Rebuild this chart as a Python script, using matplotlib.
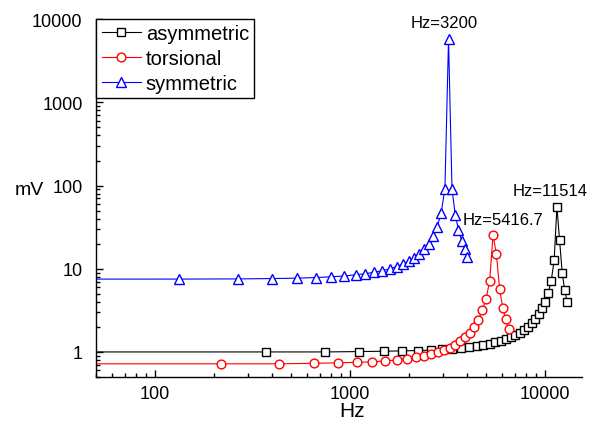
import matplotlib
matplotlib.use('Agg')
import matplotlib.pyplot as plt
from matplotlib.ticker import FixedLocator, LogLocator, NullFormatter, FuncFormatter

plt.rcParams['font.family'] = ['Liberation Sans', 'DejaVu Sans']

# asymmetric mode (first point sits left of the axis so the line starts at the spine)
asym_hz = [1, 371.4, 742.8, 1114.3, 1485.7, 1857.1, 2228.5, 2599.9, 2971.4, 3342.8,
           3714.2, 4085.6, 4457.0, 4828.4, 5199.9, 5571.3, 5942.7, 6314.1, 6685.5,
           7057.0, 7428.4, 7799.8, 8171.2, 8542.6, 8914.1, 9285.5, 9656.9, 10028.3,
           10399.7, 10771.2, 11142.6, 11514.0, 11885.4, 12256.8, 12628.2, 12999.7]
asym_mv = [1.0, 1.0, 1.0, 1.01, 1.02, 1.03, 1.04, 1.05, 1.07, 1.09,
           1.12, 1.14, 1.18, 1.21, 1.26, 1.31, 1.36, 1.43, 1.51,
           1.60, 1.71, 1.85, 2.01, 2.22, 2.50, 2.86, 3.35, 3.95,
           5.15, 7.2, 12.6, 55.0, 21.9, 8.9, 5.5, 4.0]

# torsional mode
tors_hz = [1, 216.7, 433.3, 650.0, 866.7, 1083.3, 1300.0, 1516.7, 1733.3, 1950.0,
           2166.7, 2383.3, 2600.0, 2816.7, 3033.3, 3250.0, 3466.7, 3683.3, 3900.0,
           4116.7, 4333.3, 4550.0, 4766.7, 4983.3, 5200.0, 5416.7, 5633.3, 5850.0,
           6066.7, 6283.3, 6500.0]
tors_mv = [0.72, 0.72, 0.72, 0.73, 0.74, 0.75, 0.76, 0.78, 0.80, 0.83,
           0.86, 0.89, 0.94, 0.99, 1.05, 1.13, 1.22, 1.34, 1.50,
           1.70, 2.0, 2.45, 3.15, 4.3, 7.1, 25.6, 14.9, 5.75,
           3.4, 2.46, 1.9]

# symmetric mode
sym_hz = [1, 133.3, 266.7, 400.0, 533.3, 666.7, 800.0, 933.3, 1066.7, 1200.0,
          1333.3, 1466.7, 1600.0, 1733.3, 1866.7, 2000.0, 2133.3, 2266.7, 2400.0,
          2533.3, 2666.7, 2800.0, 2933.3, 3066.7, 3200.0, 3333.3, 3466.7, 3600.0,
          3733.3, 3866.7, 4000.0]
sym_mv = [7.5, 7.51, 7.55, 7.62, 7.71, 7.84, 8.0, 8.2, 8.44, 8.73,
          9.08, 9.49, 10.0, 10.6, 11.4, 12.3, 13.5, 15.05, 17.1,
          20.1, 24.5, 32.0, 46.9, 92.0, 5700.0, 92.0, 44.0, 29.5,
          21.8, 17.2, 13.7]

peak_labels = ['Hz=11514', 'Hz=5416.7', 'Hz=3200']
peak_hz = [11514.0, 5416.7, 3200.0]
peak_mv = [55.0, 25.6, 5700.0]
label_offsets = [(-4.8, 12), (7, 10.8), (-3.4, 12)]

fig = plt.figure(figsize=(5.97, 4.27), dpi=100)
ax = fig.add_axes([0.1616, 0.1148, 0.8134, 0.838])

ax.plot(asym_hz, asym_mv, color='black', lw=0.8, marker='s', ms=5.5,
        mfc='white', mec='black', mew=1, label='asymmetric')
ax.plot(tors_hz, tors_mv, color='red', lw=0.8, marker='o', ms=6.3,
        mfc='white', mec='red', mew=1, label='torsional')
ax.plot(sym_hz, sym_mv, color='blue', lw=0.8, marker='^', ms=7,
        mfc='white', mec='blue', mew=1, label='symmetric')

for txt, x, y, off in zip(peak_labels, peak_hz, peak_mv, label_offsets):
    ax.annotate(txt, xy=(x, y), xytext=off, textcoords='offset points',
                ha='center', va='center', fontsize=12)

ax.set_xscale('log')
ax.set_yscale('log')
ax.set_xlim(50, 15500)
ax.set_ylim(0.5, 10000)

fmt = FuncFormatter(lambda v, _: f'{v:g}')
ax.xaxis.set_major_locator(FixedLocator([100, 1000, 10000]))
ax.yaxis.set_major_locator(FixedLocator([1, 10, 100, 1000, 10000]))
ax.xaxis.set_major_formatter(fmt)
ax.yaxis.set_major_formatter(fmt)
ax.xaxis.set_minor_locator(LogLocator(base=10, subs=range(2, 10), numticks=20))
ax.yaxis.set_minor_locator(LogLocator(base=10, subs=range(2, 10), numticks=20))
ax.xaxis.set_minor_formatter(NullFormatter())
ax.yaxis.set_minor_formatter(NullFormatter())

ax.tick_params(which='both', direction='in', top=False, right=False, labelsize=13)
ax.tick_params(which='major', length=5, width=1)
ax.tick_params(which='minor', length=2.6, width=1)
ax.tick_params(axis='y', pad=10)
ax.tick_params(axis='x', pad=6)

for s in ['top', 'right']:
    ax.spines[s].set_visible(False)
for s in ['left', 'bottom']:
    ax.spines[s].set_linewidth(1)

ax.set_ylabel('mV', rotation=0, fontsize=14, ha='center', va='center')
ax.yaxis.set_label_coords(-0.139, 0.525)
ax.set_xlabel('Hz', fontsize=15, va='center')
ax.xaxis.set_label_coords(0.526, -0.095)

leg = ax.legend(loc='upper left', bbox_to_anchor=(0, 1), borderaxespad=0,
                fontsize=14.5, fancybox=False, edgecolor='black', framealpha=1,
                handlelength=1.95, handletextpad=0.25, labelspacing=0.3,
                borderpad=0.25)
leg.get_frame().set_linewidth(1)

fig.savefig('out.png', dpi=100)
